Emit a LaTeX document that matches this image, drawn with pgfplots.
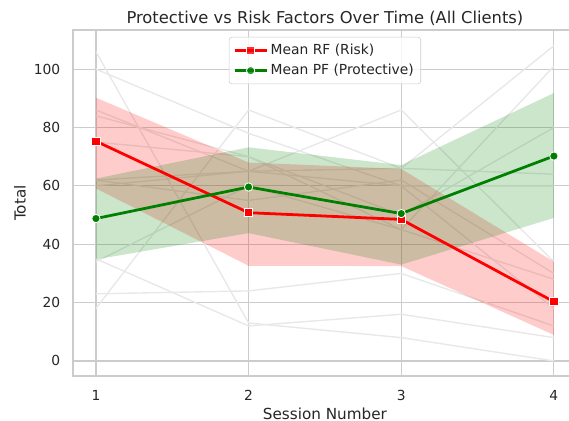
\documentclass[border=0pt]{standalone}
\usepackage{pgfplots}
\pgfplotsset{compat=1.18}
\usepackage{fontspec}
\setmainfont{DejaVu Sans}
\definecolor{txt}{HTML}{262626}
\definecolor{gridc}{HTML}{CCCCCC}
\definecolor{mgreen}{HTML}{008000}
\definecolor{mred}{HTML}{FF0000}
\definecolor{faintgray}{HTML}{E8E8E8}
\begin{document}
\begin{tikzpicture}
\begin{axis}[
  scale only axis,
  width=362.7bp, height=249.1bp,
  xmin=0.85, xmax=4.15, ymin=-5.14, ymax=113.4,
  xtick={1,2,3,4}, ytick={0,20,40,60,80,100},
  grid=major,
  major grid style={draw=gridc, line width=0.8bp},
  axis line style={draw=gridc, line width=1.25bp},
  major tick length=0pt,
  tick label style={font=\fontsize{10}{12}\selectfont, text=txt},
  /pgf/number format/assume math mode=true,
  yticklabel style={inner sep=0pt, anchor=east, xshift=-9bp},
  xticklabel style={inner sep=0pt, anchor=north, yshift=-10bp},
  xlabel={Session Number},
  ylabel={Total},
  label style={font=\fontsize{11}{13}\selectfont, text=txt},
  xlabel style={at={(axis description cs:0.5,0)}, anchor=base, yshift=-31bp, inner sep=0pt},
  ylabel style={at={(axis description cs:-0.1053,0.5)}, anchor=center, inner sep=0pt},
  title={Protective vs Risk Factors Over Time (All Clients)},
  every axis title shift=0pt,
  title style={at={(axis description cs:0.5,1)}, anchor=base, yshift=4.5bp, inner sep=0pt, font=\fontsize{11.8}{14}\selectfont, text=txt},
  legend style={at={(axis description cs:0.5,0.98)}, anchor=north, draw=gridc, rounded corners=2bp,
    fill=white, fill opacity=0.8, text opacity=1, font=\fontsize{10}{12}\selectfont, text=txt,
    row sep=1.5bp, inner xsep=3bp, inner ysep=3bp},
  legend cell align=left,
  legend image code/.code={\draw[mark repeat=2, mark phase=2] plot coordinates {(0bp,0bp)(11.5bp,0bp)(23bp,0bp)};},
  clip=true,
]
% individual client trajectories (faint)
\addplot[color=faintgray, line width=1bp, forget plot] coordinates {(1,106)(2,13)(3,8)(4,0)};
\addplot[color=faintgray, line width=1bp, forget plot] coordinates {(1,100)(2,78)(3,60)(4,18)};
\addplot[color=faintgray, line width=1bp, forget plot] coordinates {(1,86)(2,65)(3,86)(4,34)};
\addplot[color=faintgray, line width=1bp, forget plot] coordinates {(1,75)(2,70)(3,45)(4,28)};
\addplot[color=faintgray, line width=1bp, forget plot] coordinates {(1,62)(2,55)(3,62)(4,30)};
\addplot[color=faintgray, line width=1bp, forget plot] coordinates {(1,23)(2,24)(3,30)(4,12)};
\addplot[color=faintgray, line width=1bp, forget plot] coordinates {(1,35)(2,12)(3,16)(4,8)};
\addplot[color=faintgray, line width=1bp, forget plot] coordinates {(1,34)(2,60)(3,45)(4,101)};
\addplot[color=faintgray, line width=1bp, forget plot] coordinates {(1,18)(2,86)(3,66)(4,108)};
\addplot[color=faintgray, line width=1bp, forget plot] coordinates {(1,60)(2,65)(3,60)(4,60)};
\addplot[color=faintgray, line width=1bp, forget plot] coordinates {(1,84)(2,70)(3,50)(4,80)};
\addplot[color=faintgray, line width=1bp, forget plot] coordinates {(1,62)(2,65)(3,66)(4,64)};
% confidence bands
\addplot[fill=mred, fill opacity=0.2, draw=none, forget plot] coordinates {(1,90.2)(2,68.0)(3,65.8)(4,34.0)(4,8.9)(3,32.5)(2,32.6)(1,59.1)} -- cycle;
\addplot[fill=mgreen, fill opacity=0.2, draw=none, forget plot] coordinates {(1,62.5)(2,73.2)(3,67.1)(4,91.8)(4,49.0)(3,33.0)(2,43.8)(1,34.8)} -- cycle;
% means
\addplot[mred, line width=2bp, mark=square*, mark size=3bp, mark options={fill=mred, draw=white, line width=0.6bp}]
  coordinates {(1,75.3)(2,50.8)(3,48.5)(4,20.3)};
\addlegendentry{Mean RF (Risk)}
\addplot[mgreen, line width=2bp, mark=*, mark size=3bp, mark options={fill=mgreen, draw=white, line width=0.6bp}]
  coordinates {(1,48.8)(2,59.6)(3,50.5)(4,70.2)};
\addlegendentry{Mean PF (Protective)}
\end{axis}
\pgfresetboundingbox
\useasboundingbox (-52.6bp,-32.4bp) rectangle (357.1bp,270.7bp);
\end{tikzpicture}
\end{document}
